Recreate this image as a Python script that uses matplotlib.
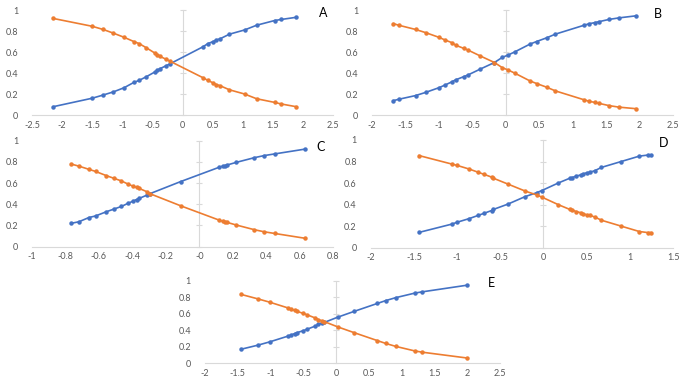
import matplotlib

matplotlib.use('agg')
import matplotlib.pyplot as plt
import numpy as np

plt.rcParams['font.family'] = ['Lato', 'DejaVu Sans']
plt.rcParams['axes.unicode_minus'] = False

blue = '#4472C4'
orange = '#ED7D31'
axis_grey = '#D9D9D9'
label_grey = '#595959'

# panel A
a_x = [-2.15, -1.50, -1.32, -1.15, -0.97, -0.81, -0.72, -0.60, -0.46, -0.42, -0.38, -0.27, -0.20,
       0.34, 0.42, 0.51, 0.56, 0.62, 0.78, 1.03, 1.23, 1.53, 1.64, 1.88]
a_blue = [0.079, 0.16, 0.19, 0.22, 0.26, 0.31, 0.33, 0.365, 0.41, 0.425, 0.44, 0.47, 0.49,
          0.65, 0.68, 0.70, 0.715, 0.725, 0.77, 0.81, 0.855, 0.90, 0.91, 0.93]
a_orange = [0.92, 0.845, 0.815, 0.78, 0.74, 0.70, 0.68, 0.64, 0.59, 0.575, 0.56, 0.53, 0.51,
            0.355, 0.33, 0.305, 0.29, 0.28, 0.24, 0.20, 0.155, 0.12, 0.105, 0.08]

# panel B
b_x = [-1.68, -1.60, -1.35, -1.20, -1.00, -0.91, -0.81, -0.75, -0.63, -0.57, -0.39, -0.17, -0.05,
       0.03, 0.13, 0.36, 0.46, 0.61, 0.74, 1.17, 1.25, 1.33, 1.40, 1.54, 1.69, 1.95]
b_blue = [0.137, 0.15, 0.185, 0.215, 0.26, 0.285, 0.315, 0.335, 0.365, 0.38, 0.435, 0.50, 0.55,
          0.57, 0.60, 0.675, 0.70, 0.735, 0.77, 0.855, 0.87, 0.88, 0.89, 0.91, 0.925, 0.945]
b_orange = [0.87, 0.855, 0.815, 0.785, 0.74, 0.715, 0.69, 0.665, 0.635, 0.62, 0.565, 0.50, 0.45,
            0.43, 0.40, 0.325, 0.30, 0.265, 0.23, 0.145, 0.13, 0.12, 0.11, 0.09, 0.075, 0.06]

# panel C
c_x = [-0.767, -0.72, -0.66, -0.62, -0.555, -0.51, -0.465, -0.425, -0.395, -0.375, -0.36, -0.315,
       -0.295, -0.11, 0.12, 0.14, 0.155, 0.165, 0.22, 0.33, 0.39, 0.45, 0.63]
c_blue = [0.22, 0.235, 0.275, 0.29, 0.33, 0.355, 0.38, 0.41, 0.43, 0.445, 0.455, 0.485,
          0.50, 0.615, 0.75, 0.76, 0.765, 0.77, 0.795, 0.84, 0.86, 0.875, 0.92]
c_orange = [0.78, 0.76, 0.73, 0.71, 0.67, 0.645, 0.62, 0.59, 0.57, 0.56, 0.55, 0.52,
            0.50, 0.385, 0.25, 0.24, 0.235, 0.23, 0.205, 0.16, 0.14, 0.125, 0.08]

# panel D
d_x = [-1.44, -1.055, -1.005, -0.86, -0.755, -0.685, -0.60, -0.58, -0.41, -0.21, -0.08, -0.02,
       0.17, 0.305, 0.33, 0.38, 0.43, 0.46, 0.50, 0.535, 0.595, 0.67, 0.90, 1.11, 1.21, 1.24]
d_blue = [0.142, 0.22, 0.235, 0.27, 0.30, 0.32, 0.345, 0.355, 0.405, 0.475, 0.51, 0.53,
          0.60, 0.645, 0.65, 0.665, 0.675, 0.685, 0.695, 0.70, 0.715, 0.745, 0.80, 0.85, 0.86, 0.86]
d_orange = [0.855, 0.775, 0.765, 0.73, 0.70, 0.68, 0.655, 0.645, 0.59, 0.525, 0.49, 0.47,
            0.40, 0.355, 0.35, 0.335, 0.325, 0.315, 0.305, 0.30, 0.285, 0.255, 0.20, 0.15, 0.14, 0.14]

# panel E
e_x = [-1.45, -1.19, -1.01, -0.73, -0.68, -0.63, -0.60, -0.50, -0.45, -0.32, -0.27, -0.22, -0.18,
       0.03, 0.28, 0.63, 0.76, 0.91, 1.20, 1.31, 1.99]
e_blue = [0.17, 0.22, 0.26, 0.33, 0.345, 0.36, 0.37, 0.395, 0.41, 0.45, 0.47, 0.485, 0.495,
          0.56, 0.63, 0.725, 0.76, 0.795, 0.85, 0.865, 0.945]
e_orange = [0.835, 0.78, 0.74, 0.67, 0.655, 0.64, 0.63, 0.605, 0.59, 0.55, 0.53, 0.515, 0.505,
            0.44, 0.37, 0.275, 0.24, 0.205, 0.15, 0.135, 0.065]

panels = [
    # letter, x, blue, orange, xlim, xstep, axes rect, letter position
    ('A', a_x, a_blue, a_orange, (-2.5, 2.5), 0.5, [0.0469, 0.7005, 0.4407, 0.2734], (0.473, 0.966)),
    ('B', b_x, b_blue, b_orange, (-2.0, 2.5), 0.5, [0.5447, 0.7005, 0.4407, 0.2734], (0.963, 0.963)),
    ('C', c_x, c_blue, c_orange, (-1.0, 0.8), 0.2, [0.0469, 0.3576, 0.4407, 0.2760], (0.469, 0.618)),
    ('D', d_x, d_blue, d_orange, (-2.0, 1.5), 0.5, [0.5428, 0.3550, 0.4426, 0.2805], (0.971, 0.628)),
    ('E', e_x, e_blue, e_orange, (-2.0, 2.5), 0.5, [0.3000, 0.0539, 0.4320, 0.2150], (0.720, 0.263)),
]

fig = plt.figure(figsize=(6.83, 3.84), dpi=100)

for letter, xs, ys_b, ys_o, xlim, xstep, rect, lpos in panels:
    ax = fig.add_axes(rect)
    ax.plot(xs, ys_b, color=blue, lw=1.2, marker='o', ms=2.2, clip_on=False, zorder=3)
    ax.plot(xs, ys_o, color=orange, lw=1.2, marker='o', ms=2.2, clip_on=False, zorder=3)

    ax.set_xlim(*xlim)
    ax.set_ylim(0, 1)
    xt = np.round(np.arange(xlim[0], xlim[1] + xstep / 2, xstep), 2)
    ax.set_xticks(xt)
    ax.set_xticklabels(['{:g}'.format(v) for v in xt])
    yt = np.round(np.arange(0, 1.01, 0.2), 1)
    ax.set_yticks(yt)
    ax.set_yticklabels(['{:g}'.format(v) for v in yt])

    for s in ['top', 'right', 'left']:
        ax.spines[s].set_visible(False)
    ax.spines['bottom'].set_color(axis_grey)
    ax.spines['bottom'].set_linewidth(0.8)
    ax.tick_params(axis='x', length=0, pad=4, labelsize=6.5, labelcolor=label_grey)
    ax.tick_params(axis='y', length=0, pad=10, labelsize=6.5, labelcolor=label_grey)

    # vertical axis crossing at x = 0
    frac = (0 - xlim[0]) / (xlim[1] - xlim[0])
    sec = ax.secondary_yaxis(frac)
    sec.set_yticks(yt)
    sec.tick_params(direction='inout', length=4, width=0.8, color=axis_grey, labelleft=False,
                    labelright=False)
    for s in sec.spines.values():
        s.set_color(axis_grey)
        s.set_linewidth(0.8)

    fig.text(lpos[0], lpos[1], letter, fontsize=9, ha='center', va='center', color='black')

fig.savefig('out.png', dpi=100, facecolor='white')
